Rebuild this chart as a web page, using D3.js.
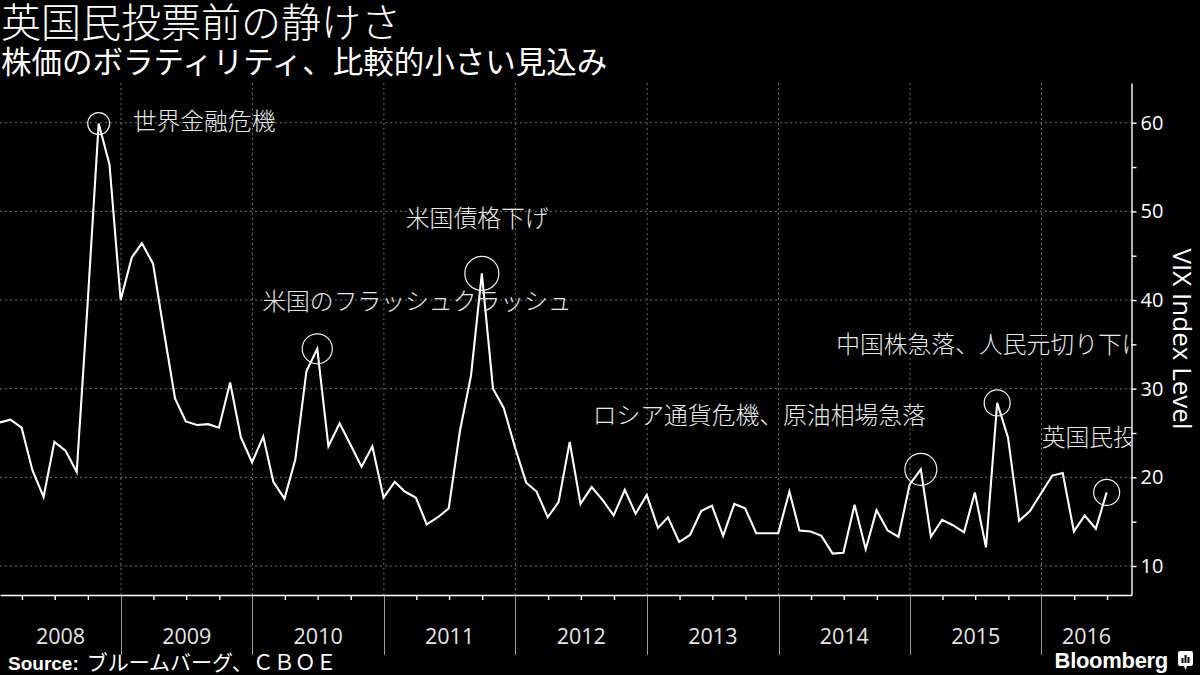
<!DOCTYPE html>
<html>
<head>
<meta charset="utf-8">
<script src="https://cdn.jsdelivr.net/npm/d3@7"></script>
<style>
  html, body { margin: 0; padding: 0; background: #000; }
  svg { display: block; }
</style>
</head>
<body>
<script>
// ---------------- data (month-end VIX readings) ----------------
const years = [2008, 2009, 2010, 2011, 2012, 2013, 2014, 2015, 2016];
const vix2008 = [26.2, 26.5, 25.6, 20.8, 17.8, 24.0, 23.0, 20.6, 39.4, 59.9, 55.3, 40.0];
const vix2009 = [44.8, 46.4, 44.1, 36.5, 28.9, 26.3, 25.9, 26.0, 25.6, 30.7, 24.5, 21.7];
const vix2010 = [24.6, 19.5, 17.6, 22.0, 32.0, 34.5, 23.5, 26.1, 23.7, 21.2, 23.5, 17.7];
const vix2011 = [19.5, 18.4, 17.7, 14.7, 15.5, 16.5, 25.2, 31.5, 43.0, 30.0, 27.8, 23.4];
const vix2012 = [19.4, 18.4, 15.5, 17.2, 24.0, 17.0, 18.9, 17.4, 15.7, 18.6, 15.9, 18.0];
const vix2013 = [14.3, 15.5, 12.7, 13.5, 16.2, 16.8, 13.4, 17.0, 16.5, 13.7, 13.7, 13.7];
const vix2014 = [18.4, 14.0, 13.9, 13.4, 11.4, 11.5, 16.9, 11.9, 16.3, 14.0, 13.3, 19.2];
const vix2015 = [20.9, 13.3, 15.2, 14.6, 13.8, 18.3, 12.1, 28.4, 24.5, 15.1, 16.2, 18.2];
const vix2016 = [20.2, 20.5, 13.9, 15.7, 14.2, 18.3];
const vixByYear = [vix2008, vix2009, vix2010, vix2011, vix2012, vix2013, vix2014, vix2015, vix2016];

const yTicks = [10, 15, 20, 25, 30, 35, 40, 45, 50, 55, 60];
const yLabelTicks = [10, 20, 30, 40, 50, 60];
const yearLabels = ["2008", "2009", "2010", "2011", "2012", "2013", "2014", "2015", "2016"];

// annotations: label, year, month (1-12) of the circled point
const annoLabels = ["世界金融危機", "米国のフラッシュクラッシュ", "米国債格下げ",
                    "ロシア通貨危機、原油相場急落", "中国株急落、人民元切り下げ", "英国民投票"];
const annoYears  = [2008, 2010, 2011, 2015, 2015, 2016];
const annoMonths = [10, 6, 9, 1, 8, 6];

const titleText = "英国民投票前の静けさ";
const subtitleText = "株価のボラティリティ、比較的小さい見込み";
const axisTitle = "VIX Index Level";
const sourceLabel = "Source:";
const sourceText = "ブルームバーグ、ＣＢＯＥ";

// ---------------- build series ----------------
const series = [];
vixByYear.forEach((arr, yi) => {
  arr.forEach((v, m) => series.push({ date: new Date(years[yi], m + 1, 0), value: v }));
});

// ---------------- layout ----------------
const W = 1200, H = 675;
const plotL = 0, plotR = 1131.5, plotT = 83, plotB = 595;
const jp = "'Noto Sans CJK JP', 'Noto Sans', sans-serif";
const latin = "'Open Sans', 'Noto Sans', sans-serif";

const svg = d3.select("body").append("svg").attr("width", W).attr("height", H)
  .style("background", "#000");

const x = d3.scaleTime()
  .domain([new Date(2008, 0, 31), new Date(2016, 8, 7)])
  .range([plotL, plotR]);
const y = d3.scaleLinear().domain([6.73, 64.48]).range([plotB, plotT]);

// clip
svg.append("defs").append("clipPath").attr("id", "plotclip")
  .append("rect").attr("x", plotL).attr("y", 0).attr("width", plotR - plotL).attr("height", plotB);

// gridlines horizontal
svg.append("g").selectAll("line").data(yLabelTicks).join("line")
  .attr("x1", plotL).attr("x2", plotR)
  .attr("y1", d => y(d)).attr("y2", d => y(d))
  .attr("stroke", "#8a8a8a").attr("stroke-width", 0.8).attr("stroke-dasharray", "2,3");

// gridlines vertical at year boundaries
const yearStarts = years.slice(1).map(yr => new Date(yr, 0, 1));
svg.append("g").selectAll("line").data(yearStarts).join("line")
  .attr("x1", d => x(d)).attr("x2", d => x(d))
  .attr("y1", plotT).attr("y2", plotB)
  .attr("stroke", "#8a8a8a").attr("stroke-width", 0.8).attr("stroke-dasharray", "2,3");

// year separator ticks below axis
svg.append("g").selectAll("line").data(yearStarts).join("line")
  .attr("x1", d => Math.round(x(d)) + 0.5).attr("x2", d => Math.round(x(d)) + 0.5)
  .attr("y1", plotB).attr("y2", 655)
  .attr("stroke", "#9a9a9a").attr("stroke-width", 1);

// bottom axis (quarter ticks)
const quarterTicks = d3.timeMonth.range(new Date(2008, 0, 1), new Date(2016, 9, 1), 3)
  .filter(d => d.getMonth() !== 0 && x(d) >= plotL && x(d) <= plotR);
const xAxis = d3.axisBottom(x).tickValues(quarterTicks).tickSize(5).tickSizeOuter(0).tickFormat("");
const gx = svg.append("g").attr("transform", `translate(0,${plotB})`).call(xAxis);
gx.selectAll("path,line").attr("stroke", "#fff").attr("stroke-width", 1.4);

// year labels
svg.append("g").selectAll("text").data(years).join("text")
  .attr("x", (yr) => {
    const a = Math.max(plotL, x(new Date(yr, 0, 1)));
    const b = Math.min(plotR, x(new Date(yr + 1, 0, 1)));
    return (a + b) / 2;
  })
  .attr("y", 644)
  .attr("text-anchor", "middle")
  .attr("fill", "#e6e6e6")
  .attr("font-family", latin)
  .attr("font-size", 21.5)
  .text((yr, i) => yearLabels[i]);

// right axis
const yAxis = d3.axisRight(y).tickValues(yTicks).tickSize(5).tickSizeOuter(0).tickPadding(4)
  .tickFormat(d => yLabelTicks.includes(d) ? String(d) : "");
const gy = svg.append("g").attr("transform", `translate(${plotR},0)`).call(yAxis);
gy.selectAll("path,line").attr("stroke", "#fff").attr("stroke-width", 1.4);
gy.selectAll("text").attr("fill", "#fff").attr("font-family", latin).attr("font-size", 20);

// axis title
svg.append("text")
  .attr("transform", `translate(1173,339) rotate(90)`)
  .attr("text-anchor", "middle")
  .attr("fill", "#fff")
  .attr("font-family", latin)
  .attr("font-size", 26)
  .text(axisTitle);

// line
const line = d3.line().x(d => x(d.date)).y(d => y(d.value));
svg.append("path").datum(series)
  .attr("clip-path", "url(#plotclip)")
  .attr("d", line)
  .attr("fill", "none").attr("stroke", "#fff").attr("stroke-width", 2.1)
  .attr("stroke-linejoin", "miter");

// annotations
const annoRadius = [11, 15, 17, 16, 13, 13];
const annoDx = [34, -55, -76, 5, -161, -65];
const annoDy = [6, -39, -46, -45, -50, -46];
const annoAnchor = ["start", "start", "start", "end", "start", "start"];
const annoG = svg.append("g").attr("clip-path", "url(#plotclip)");
annoLabels.forEach((lab, i) => {
  const pt = series.find(d => d.date.getFullYear() === annoYears[i] && d.date.getMonth() === annoMonths[i] - 1);
  const cx = x(pt.date), cy = y(pt.value);
  annoG.append("circle").attr("cx", cx).attr("cy", cy).attr("r", annoRadius[i])
    .attr("fill", "none").attr("stroke", "#f0f0f0").attr("stroke-width", 1.2);
  annoG.append("text").attr("x", cx + annoDx[i]).attr("y", cy + annoDy[i])
    .attr("text-anchor", annoAnchor[i])
    .attr("fill", "#e8e8e8").attr("font-family", jp).attr("font-weight", 300)
    .attr("font-size", 23.8).text(lab);
});

// titles
svg.append("text").attr("x", 1).attr("y", 37)
  .attr("fill", "#fff").attr("font-family", jp).attr("font-weight", 300)
  .attr("font-size", 40).text(titleText);
svg.append("text").attr("x", 1).attr("y", 73)
  .attr("fill", "#fff").attr("font-family", jp).attr("font-weight", 400)
  .attr("font-size", 30.5).text(subtitleText);

// footer
const src = svg.append("text").attr("x", 8).attr("y", 670).attr("fill", "#fff");
src.append("tspan").attr("font-family", "'Liberation Sans', Arial, sans-serif")
  .attr("font-weight", 700).attr("font-size", 19).text(sourceLabel);
src.append("tspan").attr("dx", 8).attr("font-family", jp).attr("font-size", 21).text(sourceText);

svg.append("text").attr("x", 1168).attr("y", 668).attr("text-anchor", "end")
  .attr("fill", "#fff").attr("font-family", "'Liberation Sans', Arial, sans-serif")
  .attr("font-weight", 700).attr("font-size", 22).attr("letter-spacing", -0.3).text("Bloomberg");
// logo icon
const ic = svg.append("g").attr("transform", "translate(1178,651)");
ic.append("rect").attr("width", 15).attr("height", 15).attr("rx", 2).attr("fill", "#fff");
ic.append("path").attr("d", "M6,15 L7.5,19 L9,15 Z").attr("fill", "#fff");
[[3.5, 7], [6.5, 4], [9.5, 6]].forEach(([bx, by]) =>
  ic.append("rect").attr("x", bx).attr("y", by).attr("width", 2).attr("height", 12 - by).attr("fill", "#000"));
</script>
</body>
</html>
